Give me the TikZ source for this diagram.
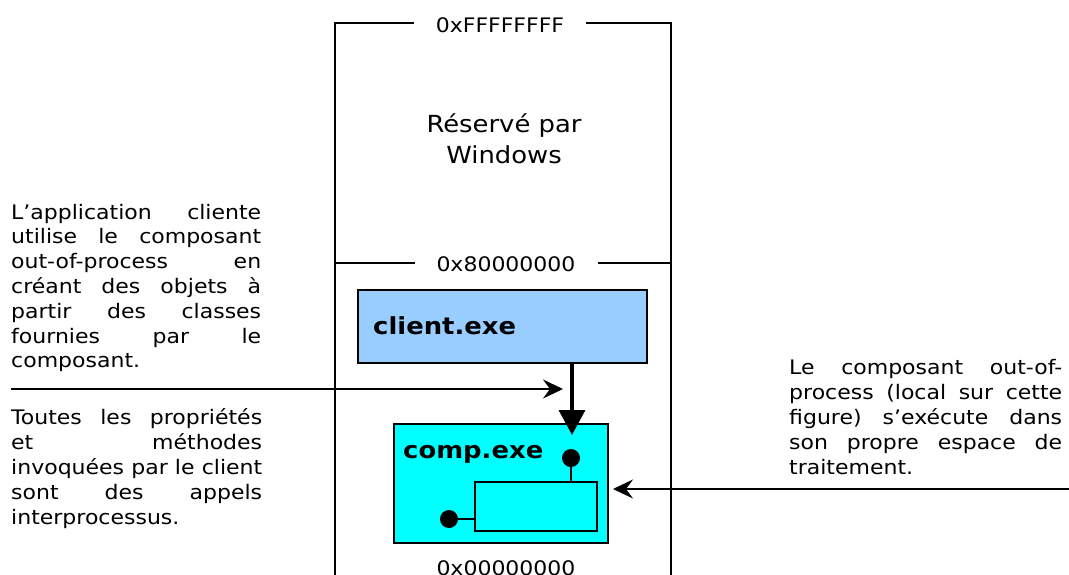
\documentclass[tikz,border=0pt]{standalone}
\usepackage{fontspec}
\setmainfont[FakeStretch=1.1]{DejaVu Sans}
\usetikzlibrary{arrows.meta}
\definecolor{clientblue}{HTML}{99CCFF}
\definecolor{compcyan}{HTML}{00FFFF}
\begin{document}
\begin{tikzpicture}[x=1pt,y=-1pt,
  frame/.style={line width=1.5pt},
  hexlabel/.style={font=\fontsize{20}{24}\selectfont, fill=white, inner xsep=22pt, inner ysep=2pt, anchor=base},
  note/.style={font=\fontsize{20}{24.8}\selectfont, align=left, inner sep=0pt, anchor=base west},
  exebox/.style={draw, line width=1.5pt, inner sep=0pt, anchor=north west},
  exelabel/.style={font=\fontsize{23.5}{28}\bfseries, anchor=base west, inner sep=0pt},
  callout/.style={line width=1.5pt, -{Stealth[length=20pt,width=19pt,inset=7pt]}},
  calls/.style={line width=3.5pt, -{Triangle[length=25pt,width=26pt]}},
  dot/.style={circle, fill=black, inner sep=0pt, minimum size=18pt},
  link/.style={line width=1.5pt}]
\useasboundingbox (0,0) rectangle (1069,574);
% address space frame
\draw[frame] (335,580) -- (335,23) -- (671,23) -- (671,580);
\draw[frame] (335,263) -- (671,263);
\node[hexlabel] (top) at (500,32) {0xFFFFFFFF};
\node[hexlabel] (mid) at (506,271) {0x80000000};
\node[hexlabel] (bot) at (506,575) {0x00000000};
\node[font=\fontsize{23.5}{31}\selectfont, align=center, anchor=base, inner sep=0pt] (res) at (504,163) {Réservé par\\Windows};
% processes
\node[exebox, fill=clientblue, minimum width=289pt, minimum height=73pt] (client) at (357,289) {};
\node[exelabel] (clientlbl) at (373,334) {client.exe};
\node[exebox, fill=compcyan, minimum width=214pt, minimum height=119pt] (comp) at (393,423) {};
\node[exelabel] (complbl) at (403,458) {comp.exe};
\node[exebox, fill=compcyan, minimum width=122pt, minimum height=49pt] (inner) at (474,481) {};
\node[dot] (d1) at (571,458) {};
\node[dot] (d2) at (449,519) {};
\draw[link] (d1) -- (d1 |- inner.north);
\draw[link] (d2) -- (d2 -| inner.west);
\coordinate (tip) at (572,435);
\draw[calls] (client.south -| tip) -- (tip);
% notes (anchored at the baseline of their last line)
\node[note] (n1) at (11,367.8) {%
\makebox[250pt][s]{L’application cliente}\\
\makebox[250pt][s]{utilise le composant}\\
\makebox[250pt][s]{out-of-process en}\\
\makebox[250pt][s]{créant des objets à}\\
\makebox[250pt][s]{partir des classes}\\
\makebox[250pt][s]{fournies par le}\\
composant.};
\node[note] (n2) at (11,524) {%
\makebox[251pt][s]{Toutes les propriétés}\\
\makebox[251pt][s]{et méthodes}\\
\makebox[251pt][s]{invoquées par le client}\\
\makebox[251pt][s]{sont des appels}\\
interprocessus.};
\node[note] (n3) at (789,474) {%
\makebox[273pt][s]{Le composant out-of-}\\
\makebox[273pt][s]{process (local sur cette}\\
\makebox[273pt][s]{figure) s’exécute dans}\\
\makebox[273pt][s]{son propre espace de}\\
traitement.};
\coordinate (l0) at (11,389);
\coordinate (l1) at (563,389);
\draw[callout] (l0) -- (l1);
\coordinate (r0) at (1069,489);
\coordinate (r1) at (613,489);
\draw[callout] (r0) -- (r1);
\end{tikzpicture}
\end{document}
